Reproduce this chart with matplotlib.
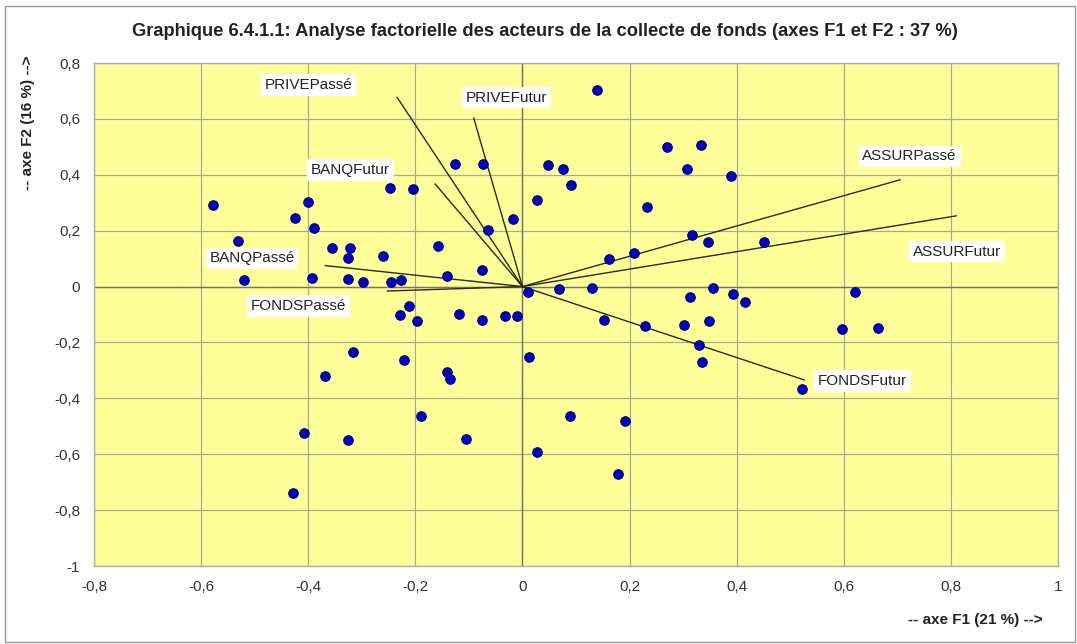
import matplotlib
matplotlib.use("Agg")
import matplotlib.pyplot as plt
from matplotlib import font_manager
from matplotlib.ticker import FixedLocator, FuncFormatter

# ---------------- data ----------------
x_points = [
    -0.577, -0.532, -0.519, -0.400, -0.424, -0.389, -0.393, -0.355, -0.322, -0.326,
    -0.326, -0.297, -0.260, -0.247, -0.205, -0.246, -0.227, -0.211, -0.229, -0.197,
    -0.158, -0.140, -0.126, -0.073, -0.064, -0.018, -0.076, -0.118, -0.075, -0.033,
    -0.011,
    -0.317, -0.222, -0.369, -0.140, -0.135, -0.190, -0.407, -0.326, -0.105, -0.428,
    0.140, 0.047, 0.075, 0.090, 0.028, 0.269, 0.334, 0.308, 0.390, 0.233,
    0.317, 0.347, 0.451, 0.208, 0.162, 0.010, 0.069, 0.129, 0.355, 0.312,
    0.394, 0.416, 0.621, 0.153, 0.229, 0.301, 0.349, 0.597, 0.663,
    0.330, 0.335, 0.013, 0.522, 0.088, 0.192, 0.027, 0.178,
]
y_points = [
    0.291, 0.164, 0.024, 0.304, 0.244, 0.208, 0.032, 0.139, 0.139, 0.103,
    0.027, 0.016, 0.110, 0.353, 0.350, 0.017, 0.025, -0.068, -0.100, -0.122,
    0.144, 0.039, 0.437, 0.438, 0.202, 0.241, 0.061, -0.097, -0.119, -0.106,
    -0.106,
    -0.234, -0.263, -0.320, -0.307, -0.330, -0.462, -0.525, -0.548, -0.544, -0.737,
    0.702, 0.435, 0.421, 0.365, 0.310, 0.501, 0.506, 0.420, 0.396, 0.283,
    0.184, 0.161, 0.161, 0.119, 0.098, -0.019, -0.010, -0.004, -0.006, -0.039,
    -0.027, -0.057, -0.019, -0.119, -0.140, -0.136, -0.124, -0.153, -0.149,
    -0.209, -0.271, -0.251, -0.368, -0.464, -0.481, -0.593, -0.669,
]

vector_names = ["PRIVEPassé", "PRIVEFutur", "BANQFutur", "BANQPassé",
                "FONDSPassé", "ASSURPassé", "ASSURFutur", "FONDSFutur"]
vector_x = [-0.234, -0.091, -0.163, -0.368, -0.252, 0.705, 0.810, 0.526]
vector_y = [0.677, 0.603, 0.367, 0.075, -0.016, 0.382, 0.253, -0.334]
label_x = [-0.399, -0.030, -0.321, -0.505, -0.419, 0.723, 0.812, 0.635]
label_y = [0.722, 0.676, 0.418, 0.101, -0.069, 0.466, 0.125, -0.337]

x_ticks = [-0.8, -0.6, -0.4, -0.2, 0, 0.2, 0.4, 0.6, 0.8, 1]
y_ticks = [-1, -0.8, -0.6, -0.4, -0.2, 0, 0.2, 0.4, 0.6, 0.8]

title = "Graphique 6.4.1.1: Analyse factorielle des acteurs de la collecte de fonds (axes F1 et F2 : 37 %)"
xlabel = "-- axe F1 (21 %) -->"
ylabel = "-- axe F2 (16 %) -->"

# ---------------- fonts ----------------
names = {f.name for f in font_manager.fontManager.ttflist}
narrow = "Liberation Sans Narrow" if "Liberation Sans Narrow" in names else "Liberation Sans"
regular = "Liberation Sans"

# ---------------- figure ----------------
fig = plt.figure(figsize=(10.77, 6.44), dpi=100)
fig.patch.set_facecolor("white")
ax = fig.add_axes([94 / 1077, 1 - 566 / 644, (1058 - 94) / 1077, (566 - 63) / 644])
ax.set_facecolor("#FFFF99")

ax.set_xlim(-0.8, 1.0)
ax.set_ylim(-1.0, 0.8)
ax.xaxis.set_major_locator(FixedLocator(x_ticks))
ax.yaxis.set_major_locator(FixedLocator(y_ticks))

def fmt(v, pos):
    s = "%g" % round(v, 2)
    return s.replace(".", ",")

ax.xaxis.set_major_formatter(FuncFormatter(fmt))
ax.yaxis.set_major_formatter(FuncFormatter(fmt))
ax.tick_params(length=0, labelsize=11, labelcolor="#333333", pad=10)
for lab in ax.get_xticklabels() + ax.get_yticklabels():
    lab.set_fontfamily(narrow)

ax.grid(True, color="#a8a89a", linewidth=0.9)
ax.set_axisbelow(True)
for sp in ax.spines.values():
    sp.set_color("#b0b0a0")
    sp.set_linewidth(1.0)

# zero axes
ax.axhline(0, color="#777766", linewidth=1.0, zorder=1)
ax.axvline(0, color="#777766", linewidth=1.0, zorder=1)

# vectors
for vx, vy in zip(vector_x, vector_y):
    ax.plot([0, vx], [0, vy], color="#2a2a10", linewidth=1.0, zorder=2)

# points
ax.scatter(x_points, y_points, s=48, color="#0000CC", edgecolor="#000055",
           linewidth=0.7, zorder=3)

# labels
for name, lx, ly in zip(vector_names, label_x, label_y):
    ax.text(lx, ly, name, ha="center", va="center", fontsize=11,
            family=regular, color="#222222", zorder=4,
            bbox=dict(boxstyle="square,pad=0.25", facecolor="white", edgecolor="none"))

# title and axis labels
fig.text(545 / 1077, 1 - 31 / 644, title, ha="center", va="center",
         fontsize=13.2, fontweight="bold", family=narrow, color="#222222")
fig.text(975 / 1077, 1 - 620 / 644, xlabel, ha="center", va="center",
         fontsize=11, fontweight="bold", family=narrow, color="#222222")
fig.text(28 / 1077, 1 - 123 / 644, ylabel, ha="center", va="center", rotation=90,
         fontsize=11, fontweight="bold", family=narrow, color="#222222")

# outer border
fig.add_artist(plt.Rectangle((5 / 1077, 2 / 644), 1 - 7 / 1077, 1 - 8 / 644,
                             transform=fig.transFigure, fill=False,
                             edgecolor="#999999", linewidth=1.0))

fig.savefig("out.png", dpi=100, facecolor="white")
